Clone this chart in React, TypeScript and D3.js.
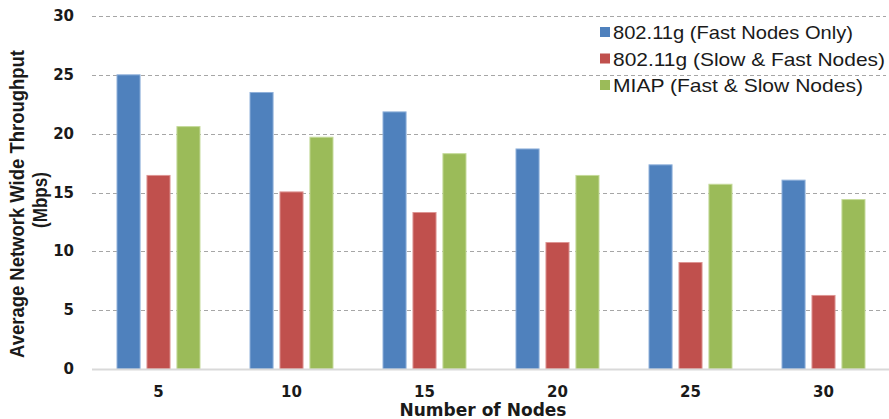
import React from "react";
import * as d3 from "d3";

const categories = ["5", "10", "15", "20", "25", "30"];
const seriesNames = [
  "802.11g (Fast Nodes Only)",
  "802.11g (Slow & Fast Nodes)",
  "MIAP (Fast & Slow Nodes)",
];
const fastOnly = [25.0, 23.5, 21.85, 18.7, 17.35, 16.05];
const slowFast = [16.45, 15.05, 13.3, 10.75, 9.05, 6.25];
const miap = [20.6, 19.7, 18.3, 16.45, 15.7, 14.4];
const seriesValues = [fastOnly, slowFast, miap];
const colors = ["#4F81BD", "#C0504D", "#9BBB59"];
const strokeColors = ["#8FB0DA", "#DD9593", "#C5DA9A"];
const yTicks = [0, 5, 10, 15, 20, 25, 30];
const legendWidths = [240, 272, 250];

const W = 889;
const H = 419;

export default function App() {
  const y = d3.scaleLinear().domain([0, 30]).range([369, 16]);
  const x0 = d3
    .scaleBand<string>()
    .domain(categories)
    .range([92, 890])
    .paddingInner(0.376)
    .paddingOuter(0.188);
  const x1 = d3
    .scaleBand<string>()
    .domain(seriesNames)
    .range([0, x0.bandwidth()])
    .paddingInner(0.23)
    .paddingOuter(0);

  const tickFont = "'DejaVu Sans', Verdana, sans-serif";
  const titleFont = "'Liberation Sans', Arial, sans-serif";
  return (
    <svg
      width={W}
      height={H}
      style={{ position: "absolute", left: 0, top: 0, background: "#fff" }}
    >
      {yTicks
        .filter((t) => t > 0)
        .map((t) => (
          <line
            key={"g" + t}
            x1={92}
            x2={886}
            y1={Math.round(y(t)) + 0.5}
            y2={Math.round(y(t)) + 0.5}
            stroke="#A6A6A6"
            strokeWidth={1}
            strokeDasharray="4,3"
          />
        ))}
      {seriesNames.map((s, si) =>
        categories.map((c, ci) => {
          const v = seriesValues[si][ci];
          const bx = (x0(c) as number) + (x1(s) as number);
          return (
            <rect
              key={s + c}
              x={bx}
              y={y(v)}
              width={x1.bandwidth()}
              height={y(0) - y(v)}
              fill={colors[si]}
              stroke={strokeColors[si]}
              strokeWidth={1}
            />
          );
        })
      )}
      <line x1={92} x2={889} y1={369.5} y2={369.5} stroke="#D9D9D9" strokeWidth={2} />
      {yTicks.map((t) => (
        <text
          key={"yt" + t}
          x={74}
          y={y(t) + 5}
          textAnchor="end"
          fontFamily={tickFont}
          fontWeight="bold"
          fontSize={15}
          fill="#1a1a1a"
        >
          {t}
        </text>
      ))}
      {categories.map((c) => (
        <text
          key={"xt" + c}
          x={(x0(c) as number) + x0.bandwidth() / 2}
          y={397}
          textAnchor="middle"
          fontFamily={tickFont}
          fontWeight="bold"
          fontSize={15}
          fill="#1a1a1a"
        >
          {c}
        </text>
      ))}
      <text
        x={483}
        y={416}
        textAnchor="middle"
        fontFamily={tickFont}
        fontWeight="bold"
        fontSize={17}
        textLength={167}
        lengthAdjust="spacingAndGlyphs"
        fill="#1a1a1a"
      >
        Number of Nodes
      </text>
      <g transform="translate(24,204) rotate(-90)">
        <text
          x={0}
          y={0}
          textAnchor="middle"
          fontFamily={titleFont}
          fontWeight="bold"
          fontSize={21}
          textLength={308}
          lengthAdjust="spacingAndGlyphs"
          fill="#1a1a1a"
        >
          Average Network Wide Throughput
        </text>
      </g>
      <g transform="translate(47,200) rotate(-90)">
        <text
          x={0}
          y={0}
          textAnchor="middle"
          fontFamily={titleFont}
          fontWeight="bold"
          fontSize={20}
          textLength={56}
          lengthAdjust="spacingAndGlyphs"
          fill="#1a1a1a"
        >
          (Mbps)
        </text>
      </g>
      {seriesNames.map((s, i) => {
        const cy = 32 + i * 26.5;
        return (
          <g key={"lg" + s}>
            <rect x={600} y={cy - 5} width={10} height={10} fill={colors[i]} />
            <text
              x={613}
              y={cy + 7}
              fontFamily="'Liberation Sans', Arial, sans-serif"
              fontSize={19}
              textLength={legendWidths[i]}
              lengthAdjust="spacingAndGlyphs"
              fill="#1a1a1a"
            >
              {s}
            </text>
          </g>
        );
      })}
    </svg>
  );
}
